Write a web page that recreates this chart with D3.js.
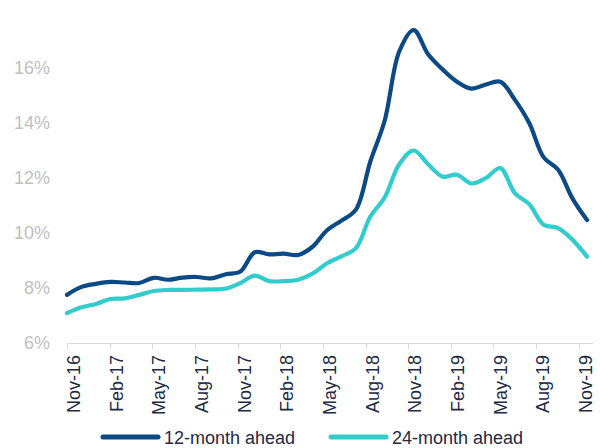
<!DOCTYPE html>
<html>
<head>
<meta charset="utf-8">
<script src="https://cdn.jsdelivr.net/npm/d3@7"></script>
<style>
  html, body { margin: 0; padding: 0; background: #fff; }
  svg { display: block; font-family: "Liberation Sans", Arial, sans-serif; }
</style>
</head>
<body>
<svg id="chart" width="600" height="448"></svg>
<script>
// ---- data ----
const months = ["Nov-16","Dec-16","Jan-17","Feb-17","Mar-17","Apr-17","May-17","Jun-17","Jul-17","Aug-17","Sep-17","Oct-17",
                "Nov-17","Dec-17","Jan-18","Feb-18","Mar-18","Apr-18","May-18","Jun-18","Jul-18","Aug-18","Sep-18","Oct-18",
                "Nov-18","Dec-18","Jan-19","Feb-19","Mar-19","Apr-19","May-19","Jun-19","Jul-19","Aug-19","Sep-19","Oct-19","Nov-19"];
const ahead12 = [7.75, 8.04, 8.15, 8.22, 8.2, 8.18, 8.37, 8.3, 8.38, 8.4, 8.35, 8.5,
                 8.6, 9.3, 9.22, 9.25, 9.2, 9.5, 10.1, 10.45, 10.85, 12.6, 14.1, 16.6,
                 17.38, 16.5, 15.95, 15.5, 15.25, 15.4, 15.5, 14.85, 14.0, 12.75, 12.3, 11.25, 10.47];
const ahead24 = [7.09, 7.3, 7.42, 7.6, 7.62, 7.75, 7.89, 7.93, 7.93, 7.94, 7.95, 7.98,
                 8.18, 8.45, 8.25, 8.25, 8.3, 8.52, 8.9, 9.15, 9.45, 10.6, 11.3, 12.5,
                 13.0, 12.5, 12.05, 12.12, 11.8, 12.0, 12.36, 11.45, 11.05, 10.3, 10.18, 9.75, 9.14];
const yTicks = [6, 8, 10, 12, 14, 16];
const seriesNames = ["12-month ahead", "24-month ahead"];
const seriesColors = ["#0b4a85", "#33cccc"];

// ---- layout ----
const svg = d3.select("#chart");
const pLeft = 67, pRight = 593, pTop = 13, pBottom = 343;

const x = d3.scaleLinear().domain([0, months.length - 1]).range([pLeft, 587]);
const xCat = d3.scaleLinear().domain([0, months.length]).range([pLeft, pRight]);
const y = d3.scaleLinear().domain([6, 18]).range([pBottom, pTop]);

// y labels
svg.append("g").selectAll("text").data(yTicks).join("text")
  .attr("x", 50).attr("y", d => y(d))
  .attr("text-anchor", "end").attr("dominant-baseline", "central")
  .attr("font-size", 18).attr("fill", "#bfbfbf")
  .text(d => d + "%");

// x axis line and ticks
const ax = svg.append("g");
ax.append("line").attr("x1", pLeft).attr("x2", pRight).attr("y1", pBottom + 0.5).attr("y2", pBottom + 0.5)
  .attr("stroke", "#d9d9d9").attr("stroke-width", 1);
const tickIdx = d3.range(0, months.length, 3);
ax.selectAll("line.tk").data(tickIdx).join("line").attr("class", "tk")
  .attr("x1", d => Math.round(xCat(d)) + 0.5).attr("x2", d => Math.round(xCat(d)) + 0.5)
  .attr("y1", pBottom).attr("y2", pBottom + 6)
  .attr("stroke", "#d9d9d9").attr("stroke-width", 1);
ax.selectAll("text").data(tickIdx).join("text")
  .attr("transform", d => `translate(${xCat(d + 0.5)},${pBottom + 12}) rotate(-90)`)
  .attr("text-anchor", "end").attr("dominant-baseline", "central")
  .attr("font-size", 18).attr("fill", "#1f2a44")
  .text(d => months[d]);

// lines
const line = d3.line().x((d, i) => x(i)).y(d => y(d)).curve(d3.curveCatmullRom.alpha(0.5));
[ahead24, ahead12].forEach((s, k) => {
  const idx = k === 0 ? 1 : 0;
  svg.append("path").datum(s)
    .attr("d", line).attr("fill", "none")
    .attr("stroke", seriesColors[idx]).attr("stroke-width", 4.2)
    .attr("stroke-linecap", "round").attr("stroke-linejoin", "round");
});

// legend
const legendX = [103, 331];
const lg = svg.append("g");
seriesNames.forEach((name, i) => {
  lg.append("line").attr("x1", legendX[i]).attr("x2", legendX[i] + 55)
    .attr("y1", 437).attr("y2", 437)
    .attr("stroke", seriesColors[i]).attr("stroke-width", 5).attr("stroke-linecap", "round");
  lg.append("text").attr("x", legendX[i] + 61).attr("y", 438)
    .attr("dominant-baseline", "central").attr("font-size", 18).attr("fill", "#1f2a44")
    .text(name);
});
</script>
</body>
</html>
